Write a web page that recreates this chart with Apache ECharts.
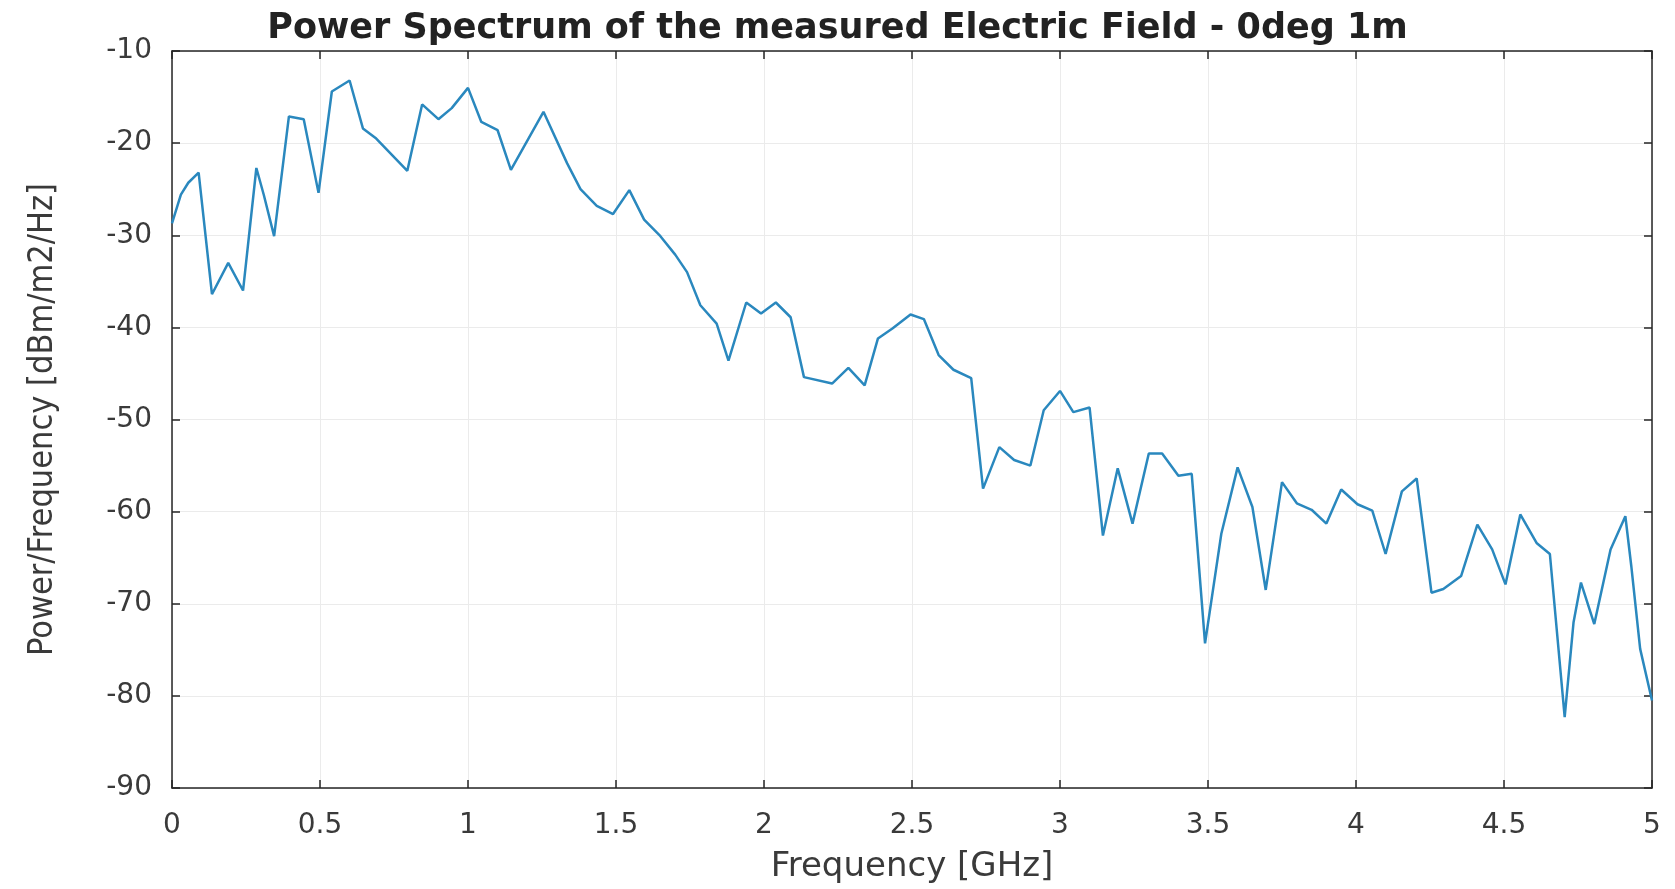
<!DOCTYPE html>
<html>
<head>
<meta charset="utf-8">
<script src="https://cdn.jsdelivr.net/npm/echarts@6/dist/echarts.min.js"></script>
<style>
html,body{margin:0;padding:0;background:#fff;}
#chart{width:1675px;height:889px;}
</style>
</head>
<body>
<div id="chart"></div>
<script>
var titleText = 'Power Spectrum of the measured Electric Field - 0deg 1m';
var xName = 'Frequency [GHz]';
var yName = 'Power/Frequency [dBm/m2/Hz]';

var freq = [
  0, 0.03, 0.055, 0.09, 0.135, 0.19, 0.24, 0.285, 0.31, 0.345,
  0.395, 0.445, 0.495, 0.54, 0.6, 0.645, 0.69, 0.795, 0.845, 0.9,
  0.945, 1.0, 1.045, 1.1, 1.145, 1.255, 1.335, 1.38, 1.435, 1.49,
  1.545, 1.595, 1.65, 1.7, 1.74, 1.785, 1.84, 1.88, 1.94, 1.99,
  2.04, 2.09, 2.135, 2.23, 2.285, 2.34, 2.385, 2.435, 2.495, 2.54,
  2.59, 2.64, 2.7, 2.74, 2.795, 2.845, 2.9, 2.945, 3.0, 3.045,
  3.1, 3.145, 3.195, 3.245, 3.3, 3.345, 3.4, 3.445, 3.49, 3.545,
  3.6, 3.65, 3.695, 3.75, 3.8, 3.85, 3.9, 3.95, 4.005, 4.055,
  4.1, 4.155, 4.205, 4.255, 4.295, 4.355, 4.41, 4.46, 4.505, 4.555,
  4.61, 4.655, 4.705, 4.735, 4.76, 4.805, 4.86, 4.91, 4.93, 4.96, 5.0
];
var power = [
  -28.7, -25.6, -24.3, -23.2, -36.4, -33, -36, -22.7, -25.6, -30.1,
  -17.1, -17.4, -25.4, -14.4, -13.2, -18.4, -19.5, -23, -15.8, -17.4,
  -16.2, -14, -17.7, -18.6, -22.9, -16.6, -22.2, -25, -26.8, -27.7,
  -25.1, -28.3, -30.1, -32.1, -34, -37.6, -39.6, -43.6, -37.3, -38.5,
  -37.3, -38.9, -45.4, -46.1, -44.4, -46.3, -41.2, -40.1, -38.6, -39.1,
  -43, -44.6, -45.5, -57.5, -53, -54.4, -55, -49, -46.9, -49.2,
  -48.7, -62.6, -55.3, -61.3, -53.7, -53.7, -56.1, -55.9, -74.3, -62.4,
  -55.2, -59.5, -68.5, -56.8, -59.1, -59.8, -61.3, -57.6, -59.2, -59.9,
  -64.6, -57.8, -56.4, -68.8, -68.4, -67, -61.4, -64.1, -67.9, -60.3,
  -63.4, -64.6, -82.3, -72, -67.7, -72.2, -64.1, -60.5, -65.9, -74.9, -80.5
];

var xMin = 0, xMax = 5, xStep = 0.5;
var yMin = -90, yMax = -10, yStep = 10;

var seriesData = freq.map(function (f, i) { return [f, power[i]]; });

var chart = echarts.init(document.getElementById('chart'), null, {renderer: 'canvas'});
var axisColor = '#262626';
var textColor = '#3a3a3a';
var font = "'DejaVu Sans', 'Liberation Sans', sans-serif";

chart.setOption({
  backgroundColor: '#ffffff',
  animation: false,
  title: {
    text: titleText,
    left: 'center',
    top: 6,
    textStyle: {fontFamily: font, fontWeight: 'bold', fontSize: 35, color: '#222222'}
  },
  grid: {left: 172, right: 23, top: 51, bottom: 99, containLabel: false},
  xAxis: [{
    type: 'value', min: xMin, max: xMax, interval: xStep,
    name: xName, nameLocation: 'middle', nameGap: 62,
    nameTextStyle: {fontFamily: font, fontSize: 34, color: textColor},
    axisLine: {show: true, onZero: false, lineStyle: {color: axisColor, width: 1.5}},
    axisTick: {show: true, inside: true, length: 8, lineStyle: {color: axisColor, width: 1.5}},
    axisLabel: {margin: 24, fontFamily: font, fontSize: 28, color: textColor},
    splitLine: {show: true, lineStyle: {color: '#ebebeb', width: 1}}
  }, {
    type: 'value', position: 'top', min: xMin, max: xMax, interval: xStep,
    axisLine: {show: true, onZero: false, lineStyle: {color: axisColor, width: 1.5}},
    axisTick: {show: true, inside: true, length: 8, lineStyle: {color: axisColor, width: 1.5}},
    axisLabel: {show: false},
    splitLine: {show: false}
  }],
  yAxis: [{
    type: 'value', min: yMin, max: yMax, interval: yStep,
    name: yName, nameLocation: 'middle', nameGap: 112,
    nameTextStyle: {fontFamily: "'Liberation Sans Narrow', 'DejaVu Sans Condensed', 'Liberation Sans', sans-serif", fontSize: 34, color: textColor},
    axisLine: {show: true, onZero: false, lineStyle: {color: axisColor, width: 1.5}},
    axisTick: {show: true, inside: true, length: 8, lineStyle: {color: axisColor, width: 1.5}},
    axisLabel: {margin: 20, fontFamily: font, fontSize: 28, color: textColor},
    splitLine: {show: true, lineStyle: {color: '#ebebeb', width: 1}}
  }, {
    type: 'value', position: 'right', min: yMin, max: yMax, interval: yStep,
    axisLine: {show: true, onZero: false, lineStyle: {color: axisColor, width: 1.5}},
    axisTick: {show: true, inside: true, length: 8, lineStyle: {color: axisColor, width: 1.5}},
    axisLabel: {show: false},
    splitLine: {show: false}
  }],
  series: [{
    type: 'line',
    xAxisIndex: 0, yAxisIndex: 0,
    data: seriesData,
    showSymbol: false,
    symbol: 'none',
    lineStyle: {color: '#2a88be', width: 2.5},
    itemStyle: {color: '#2a88be'}
  }]
});
</script>
</body>
</html>
